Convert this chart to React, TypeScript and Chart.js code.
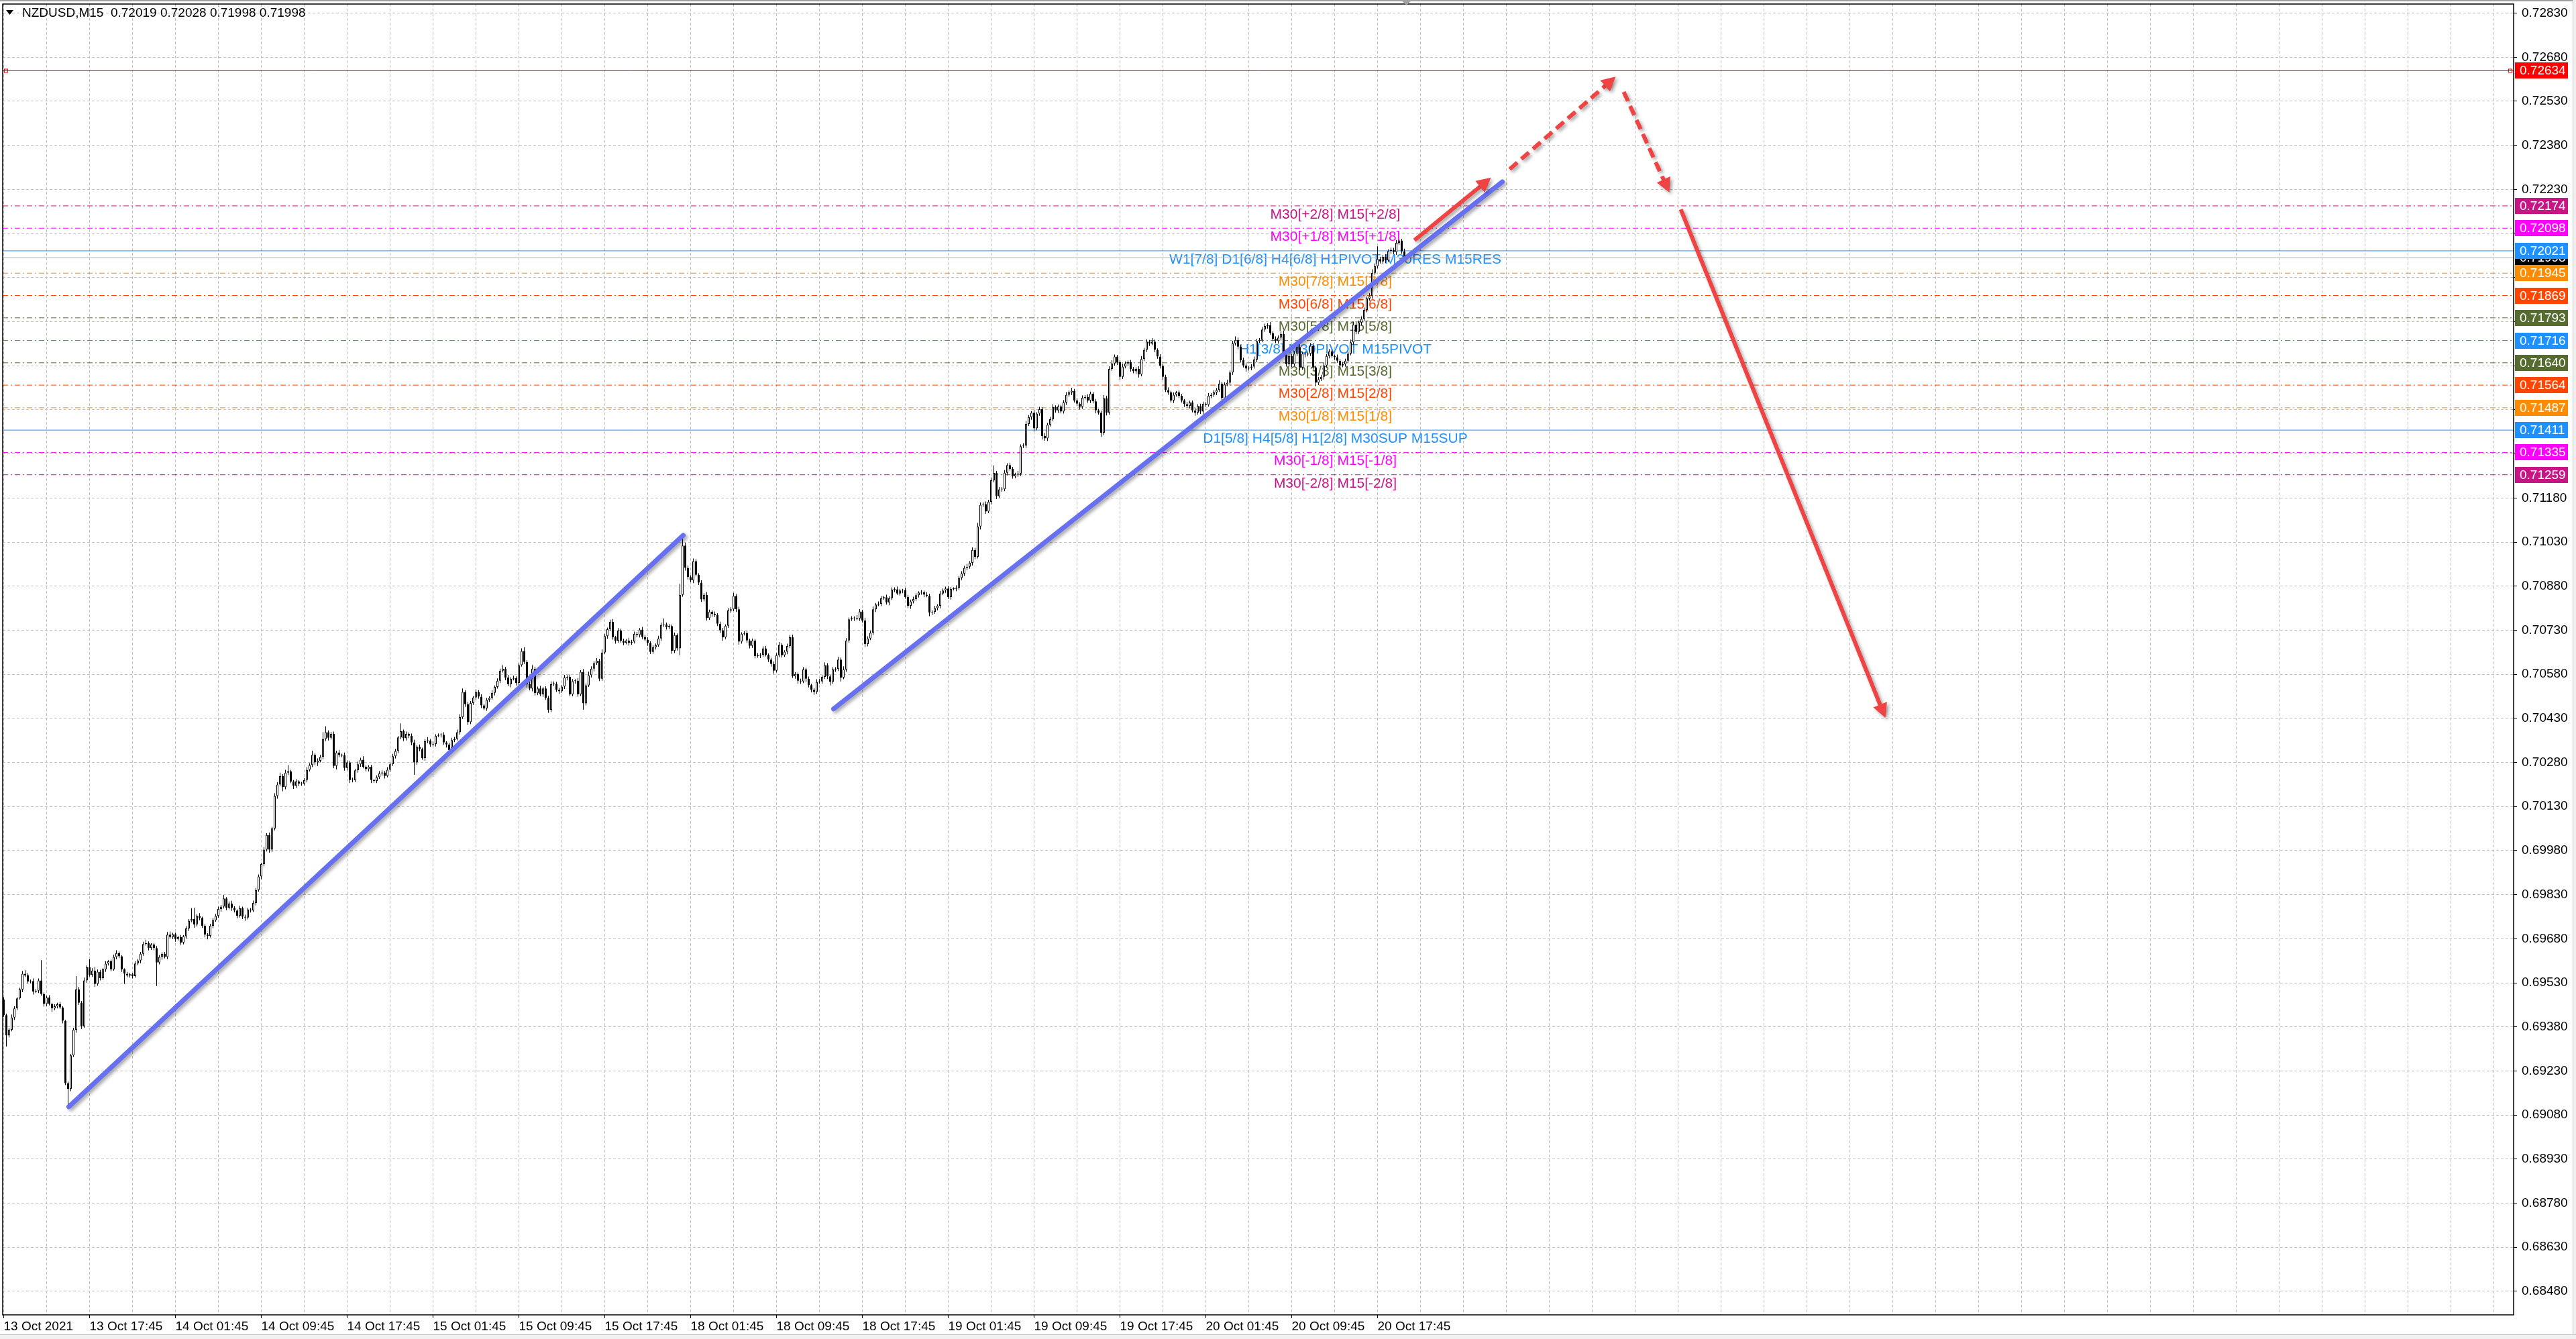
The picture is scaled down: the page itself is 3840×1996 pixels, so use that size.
import React, { useEffect, useRef } from 'react';
import { Chart, registerables } from 'chart.js';

Chart.register(...registerables);

// ---- values ----
const symbol = 'NZDUSD,M15';
const pointBase = 0.69; // every *Pts array holds points (0.00001) above this price
const firstOpenPts = 473;

// M15 closes, 13 Oct 09:45 .. 20 Oct 20:15 (open = previous close)
const closePts = [
  420, 351, 370, 412, 443, 477, 507, 561, 555, 534, 536, 500, 503, 538, 492, 458, 480, 458, 443, 450,
  457, 446, 401, 188, 169, 283, 370, 507, 462, 382, 538, 583, 557, 572, 526, 568, 546, 576, 595, 603,
  576, 618, 631, 620, 576, 561, 555, 559, 553, 596, 606, 629, 662, 665, 648, 660, 648, 599, 618, 629,
  618, 694, 686, 695, 679, 686, 667, 688, 715, 741, 747, 728, 758, 751, 724, 694, 690, 724, 743, 758,
  781, 789, 817, 785, 800, 785, 776, 758, 784, 755, 752, 779, 776, 802, 846, 892, 934, 983, 1033, 983,
  1055, 1166, 1205, 1233, 1196, 1245, 1249, 1215, 1200, 1215, 1208, 1207, 1220, 1255, 1271, 1306, 1280, 1286, 1299, 1360,
  1383, 1364, 1377, 1268, 1314, 1305, 1304, 1261, 1280, 1220, 1219, 1253, 1274, 1289, 1265, 1257, 1265, 1220, 1217, 1230,
  1243, 1246, 1234, 1255, 1274, 1301, 1319, 1365, 1386, 1362, 1377, 1371, 1348, 1280, 1333, 1325, 1295, 1352, 1354, 1341,
  1343, 1371, 1372, 1374, 1348, 1341, 1322, 1356, 1360, 1383, 1434, 1520, 1478, 1417, 1482, 1501, 1520, 1504, 1474, 1464,
  1493, 1499, 1517, 1537, 1558, 1592, 1599, 1569, 1546, 1565, 1567, 1550, 1611, 1659, 1622, 1546, 1531, 1599, 1516, 1532,
  1512, 1532, 1500, 1459, 1546, 1548, 1527, 1522, 1538, 1569, 1571, 1512, 1557, 1558, 1512, 1588, 1481, 1542, 1577, 1599,
  1618, 1626, 1565, 1654, 1710, 1733, 1759, 1706, 1694, 1729, 1694, 1687, 1695, 1687, 1691, 1717, 1714, 1732, 1707, 1698,
  1687, 1656, 1672, 1679, 1702, 1748, 1750, 1740, 1744, 1660, 1713, 1668, 1850, 2018, 1942, 1911, 1900, 1965, 1919, 1892,
  1835, 1850, 1771, 1793, 1786, 1782, 1752, 1729, 1706, 1745, 1797, 1801, 1847, 1801, 1691, 1718, 1720, 1695, 1677, 1695,
  1642, 1644, 1646, 1668, 1646, 1630, 1615, 1592, 1645, 1680, 1645, 1657, 1676, 1706, 1573, 1581, 1558, 1556, 1596, 1565,
  1543, 1527, 1520, 1554, 1556, 1571, 1611, 1573, 1554, 1596, 1598, 1630, 1569, 1596, 1695, 1767, 1771, 1772, 1770, 1794,
  1763, 1683, 1702, 1721, 1801, 1817, 1820, 1839, 1842, 1824, 1839, 1868, 1869, 1855, 1865, 1866, 1843, 1813, 1828, 1836,
  1849, 1858, 1859, 1851, 1847, 1790, 1792, 1805, 1813, 1855, 1865, 1872, 1843, 1870, 1871, 1874, 1908, 1923, 1942, 1946,
  1959, 2003, 1980, 2083, 2157, 2159, 2134, 2167, 2240, 2266, 2186, 2209, 2210, 2266, 2292, 2279, 2254, 2261, 2263, 2356,
  2358, 2432, 2455, 2470, 2417, 2467, 2482, 2391, 2383, 2429, 2448, 2490, 2478, 2491, 2474, 2505, 2531, 2539, 2545, 2512,
  2501, 2490, 2521, 2524, 2512, 2535, 2509, 2478, 2470, 2402, 2520, 2470, 2619, 2638, 2661, 2642, 2592, 2627, 2638, 2642,
  2619, 2611, 2619, 2600, 2653, 2684, 2712, 2706, 2712, 2684, 2661, 2630, 2592, 2547, 2539, 2512, 2531, 2539, 2528, 2512,
  2499, 2493, 2505, 2478, 2470, 2493, 2474, 2501, 2497, 2528, 2531, 2539, 2547, 2569, 2520, 2566, 2572, 2607, 2706, 2718,
  2695, 2649, 2631, 2620, 2623, 2627, 2651, 2714, 2718, 2753, 2765, 2768, 2741, 2722, 2714, 2726, 2738, 2671, 2635, 2663,
  2635, 2671, 2694, 2624, 2671, 2668, 2671, 2698, 2624, 2572, 2584, 2592, 2631, 2663, 2679, 2663, 2659, 2647, 2631, 2635,
  2647, 2671, 2710, 2770, 2745, 2777, 2789, 2820, 2859, 2867, 2946, 2969, 2993, 2985, 3001, 2989, 3020, 3024, 3017, 3048,
  3056, 3019, 2998,
];

// shadow lengths above / below the body
const upWickPts = [
  8, 5, 6, 10, 7, 4, 6, 9, 12, 8, 5, 9, 6, 7, 69, 5, 6, 8, 4, 7,
  5, 8, 4, 3, 6, 5, 7, 46, 9, 6, 10, 6, 27, 8, 12, 7, 6, 5, 9, 4,
  6, 8, 10, 5, 4, 3, 6, 5, 4, 7, 5, 6, 8, 12, 6, 5, 4, 7, 6, 5,
  6, 9, 11, 5, 6, 4, 7, 5, 8, 6, 37, 38, 5, 9, 4, 6, 5, 7, 8, 6,
  8, 6, 12, 5, 7, 9, 6, 4, 8, 5, 7, 6, 5, 8, 6, 7, 5, 9, 6, 8,
  6, 9, 8, 12, 7, 10, 22, 6, 5, 8, 4, 6, 7, 9, 6, 14, 5, 8, 7, 23,
  20, 6, 7, 8, 6, 9, 5, 10, 7, 6, 8, 5, 9, 7, 12, 5, 6, 7, 4, 6,
  8, 7, 5, 9, 6, 8, 7, 5, 27, 6, 8, 5, 7, 9, 6, 8, 5, 7, 12, 6,
  8, 5, 7, 6, 9, 4, 6, 8, 7, 9, 10, 12, 6, 8, 7, 5, 9, 6, 8, 5,
  7, 6, 9, 5, 8, 7, 12, 6, 9, 5, 8, 6, 7, 9, 13, 6, 8, 12, 7, 6,
  9, 5, 7, 6, 10, 8, 6, 7, 5, 9, 6, 8, 7, 5, 9, 6, 10, 7, 12, 8,
  6, 9, 7, 11, 8, 6, 7, 9, 5, 8, 6, 7, 5, 9, 6, 8, 7, 5, 9, 6,
  8, 5, 7, 6, 9, 8, 20, 6, 7, 5, 9, 6, 38, 23, 10, 8, 6, 9, 7, 5,
  8, 6, 10, 7, 5, 8, 6, 7, 9, 5, 8, 7, 10, 6, 9, 5, 7, 8, 6, 7,
  5, 8, 6, 7, 9, 5, 6, 8, 7, 10, 6, 5, 8, 7, 9, 6, 5, 7, 8, 6,
  7, 5, 6, 9, 8, 6, 10, 7, 5, 8, 6, 9, 7, 11, 8, 6, 7, 5, 9, 8,
  6, 9, 7, 8, 10, 6, 8, 7, 5, 9, 6, 8, 7, 10, 6, 5, 9, 7, 6, 8,
  7, 5, 8, 6, 9, 7, 6, 8, 5, 9, 7, 6, 8, 7, 5, 9, 6, 8, 7, 10,
  6, 9, 7, 12, 8, 6, 9, 7, 10, 25, 6, 8, 7, 9, 6, 8, 7, 5, 9, 6,
  8, 10, 7, 6, 9, 5, 8, 7, 10, 6, 8, 9, 5, 7, 6, 8, 9, 7, 10, 6,
  7, 5, 8, 6, 9, 7, 6, 8, 5, 7, 10, 8, 9, 11, 7, 6, 8, 10, 7, 6,
  8, 7, 6, 9, 10, 7, 8, 6, 12, 7, 5, 8, 6, 7, 9, 6, 8, 5, 7, 6,
  5, 8, 6, 7, 9, 6, 8, 7, 5, 9, 6, 8, 7, 12, 6, 8, 10, 7, 9, 12,
  8, 6, 9, 7, 6, 8, 10, 7, 6, 9, 8, 7, 11, 6, 8, 7, 9, 12, 6, 8,
  7, 9, 8, 12, 6, 8, 7, 9, 10, 6, 8, 7, 9, 6, 8, 7, 5, 9, 6, 8,
  7, 6, 9, 8, 10, 7, 9, 8, 6, 10, 12, 9, 43, 8, 7, 9, 6, 8, 7, 10,
  4, 6, 9,
];
const downWickPts = [
  6, 38, 7, 5, 8, 6, 4, 9, 5, 7, 6, 10, 5, 8, 6, 9, 7, 5, 12, 6,
  7, 5, 9, 6, 57, 8, 6, 10, 7, 9, 5, 8, 6, 7, 10, 6, 8, 5, 9, 6,
  7, 5, 8, 6, 9, 35, 6, 7, 8, 5, 6, 9, 7, 5, 8, 6, 7, 80, 6, 9,
  5, 8, 6, 7, 9, 5, 8, 6, 7, 9, 5, 10, 6, 8, 7, 9, 12, 6, 8, 5,
  7, 9, 6, 8, 5, 10, 7, 9, 6, 8, 11, 6, 7, 5, 8, 6, 9, 7, 6, 10,
  8, 6, 9, 5, 14, 7, 8, 6, 10, 7, 9, 6, 5, 8, 6, 7, 9, 12, 6, 8,
  7, 9, 6, 8, 12, 7, 6, 9, 8, 10, 7, 6, 8, 9, 5, 7, 8, 10, 6, 7,
  6, 8, 9, 5, 7, 6, 8, 7, 6, 9, 7, 8, 10, 42, 8, 7, 6, 9, 7, 8,
  6, 9, 5, 7, 8, 10, 12, 6, 7, 5, 8, 6, 9, 10, 7, 6, 8, 7, 9, 6,
  8, 7, 5, 9, 6, 8, 6, 9, 7, 10, 6, 8, 9, 5, 7, 12, 6, 9, 8, 7,
  6, 9, 7, 10, 8, 6, 7, 9, 5, 8, 10, 6, 7, 9, 8, 6, 22, 7, 5, 8,
  9, 6, 8, 7, 5, 9, 6, 8, 10, 7, 6, 8, 5, 9, 7, 6, 8, 9, 7, 6,
  10, 7, 6, 8, 5, 9, 7, 8, 6, 10, 8, 7, 23, 6, 9, 8, 7, 10, 6, 8,
  9, 7, 8, 6, 10, 7, 8, 9, 12, 6, 7, 8, 6, 9, 10, 7, 6, 8, 9, 7,
  8, 6, 9, 7, 5, 8, 9, 10, 6, 7, 8, 6, 9, 7, 5, 8, 10, 9, 6, 12,
  8, 9, 10, 7, 6, 8, 7, 9, 12, 6, 8, 7, 14, 6, 8, 7, 5, 9, 6, 8,
  7, 10, 8, 6, 7, 9, 5, 8, 6, 7, 9, 6, 8, 5, 7, 9, 6, 8, 10, 7,
  6, 8, 7, 9, 5, 12, 8, 6, 7, 9, 6, 8, 7, 9, 5, 8, 6, 7, 9, 8,
  7, 9, 8, 6, 10, 7, 8, 6, 9, 7, 10, 6, 8, 7, 9, 6, 8, 7, 9, 8,
  6, 8, 7, 9, 10, 6, 7, 12, 8, 9, 6, 7, 8, 9, 6, 7, 8, 6, 9, 7,
  8, 9, 7, 6, 8, 9, 7, 10, 6, 14, 8, 9, 7, 6, 8, 9, 10, 7, 6, 8,
  9, 7, 8, 10, 6, 7, 8, 9, 6, 8, 7, 9, 10, 6, 8, 7, 9, 6, 8, 7,
  9, 6, 8, 7, 10, 6, 8, 9, 7, 6, 8, 7, 9, 6, 8, 7, 6, 9, 8, 7,
  9, 8, 7, 10, 6, 8, 7, 9, 6, 8, 7, 9, 6, 8, 7, 9, 10, 6, 8, 7,
  9, 6, 8, 10, 7, 9, 6, 8, 7, 12, 8, 6, 9, 7, 8, 6, 9, 7, 10, 6,
  8, 7, 6, 9, 8, 7, 10, 6, 8, 7, 9, 6, 8, 7, 9, 10, 6, 8, 7, 9,
  6, 8, 0,
];

const timeLabels = [
  '13 Oct 2021', '13 Oct 17:45', '14 Oct 01:45', '14 Oct 09:45', '14 Oct 17:45', '15 Oct 01:45',
  '15 Oct 09:45', '15 Oct 17:45', '18 Oct 01:45', '18 Oct 09:45', '18 Oct 17:45', '19 Oct 01:45',
  '19 Oct 09:45', '19 Oct 17:45', '20 Oct 01:45', '20 Oct 09:45', '20 Oct 17:45',
];
const barsPerLabel = 32;

const priceTicks = [
  0.7283, 0.7268, 0.7253, 0.7238, 0.7223, 0.7208, 0.7193, 0.7178, 0.7163, 0.7148,
  0.7133, 0.7118, 0.7103, 0.7088, 0.7073, 0.7058, 0.7043, 0.7028, 0.7013, 0.6998,
  0.6983, 0.6968, 0.6953, 0.6938, 0.6923, 0.6908, 0.6893, 0.6878, 0.6863, 0.6848,
];

const levelPrices = [
  0.72174, 0.72098, 0.72021, 0.71945, 0.71869, 0.71793, 0.71716,
  0.7164, 0.71564, 0.71487, 0.71411, 0.71335, 0.71259,
];
const levelTexts = [
  'M30[+2/8] M15[+2/8]',
  'M30[+1/8] M15[+1/8]',
  'W1[7/8] D1[6/8] H4[6/8] H1PIVOT M30RES M15RES',
  'M30[7/8] M15[7/8]',
  'M30[6/8] M15[6/8]',
  'M30[5/8] M15[5/8]',
  'H1[3/8] M30PIVOT M15PIVOT',
  'M30[3/8] M15[3/8]',
  'M30[2/8] M15[2/8]',
  'M30[1/8] M15[1/8]',
  'D1[5/8] H4[5/8] H1[2/8] M30SUP M15SUP',
  'M30[-1/8] M15[-1/8]',
  'M30[-2/8] M15[-2/8]',
];
const resistancePrice = 0.72634;

// hand-drawn objects as [bar, price, bar, price]
const trendLines = [
  [24.25, 0.69108, 253.25, 0.71053],
  [309.25, 0.70462, 558.5, 0.72256],
];
const arrows = [
  [525.75, 0.72057, 554.25, 0.7227],
  [561.25, 0.72299, 600.75, 0.72614],
  [603.75, 0.72562, 620.75, 0.7222],
  [625, 0.72162, 701.25, 0.70432],
];

// ---- styles ----
const levelColors = [
  '#C71585', '#FF00FF', '#1E90FF', '#FF8C00', '#FF4500', '#556B2F', '#1E90FF',
  '#556B2F', '#FF4500', '#FF8C00', '#1E90FF', '#FF00FF', '#C71585',
];
const levelSolid = [false, false, true, false, false, false, false, false, false, false, true, false, false];
const arrowDashed = [false, true, true, false];
const ARIAL = '"Liberation Sans", Arial, sans-serif';
const UI_SIZE = 19;
const GRID = '#C0C0C0';
const X_MIN = -0.375;
const X_MAX = 935.375;
const Y_MIN = 0.684;
const Y_MAX = 0.72861;
const LEVEL_TEXT_BAR = 496.25;

const toPrice = (pts: number) => +(pointBase + pts / 1e5).toFixed(5);

export default function App() {
  const canvasRef = useRef<HTMLCanvasElement>(null);

  useEffect(() => {
    document.body.style.margin = '0';
    const canvas = canvasRef.current;
    if (!canvas) return;

    const opens = closePts.map((c, i) => (i === 0 ? firstOpenPts : closePts[i - 1]));
    const bodies = closePts.map((c, i) => ({ x: i, y: [toPrice(opens[i]), toPrice(c)] }));
    const wicks = closePts.map((c, i) => ({
      x: i,
      y: [
        toPrice(Math.min(opens[i], c) - (downWickPts[i] ?? 5)),
        toPrice(Math.max(opens[i], c) + (upWickPts[i] ?? 5)),
      ],
    }));
    const bodyFill = closePts.map((c, i) => (c >= opens[i] ? '#FFFFFF' : '#000000'));
    const last = closePts.length - 1;
    const lastOpen = toPrice(opens[last]);
    const lastHigh = toPrice(Math.max(opens[last], closePts[last]) + upWickPts[last]);
    const lastLow = toPrice(Math.min(opens[last], closePts[last]) - downWickPts[last]);
    const bid = toPrice(closePts[last]);

    const hLine = (price: number, color: string, dash: number[]) => ({
      type: 'line',
      data: [{ x: X_MIN, y: price }, { x: X_MAX, y: price }],
      borderColor: color,
      borderWidth: 1,
      borderDash: dash,
      pointRadius: 0,
      fill: false,
      order: 10,
    });

    const datasets: any[] = [
      ...levelPrices.map((p, k) => hLine(p, levelColors[k], levelSolid[k] ? [] : [8, 4, 2, 4])),
      hLine(resistancePrice, '#FF0000', []),
      hLine(bid, '#B4B4B4', []),
      {
        type: 'bar',
        data: wicks,
        backgroundColor: '#000000',
        borderWidth: 0,
        barThickness: 1,
        grouped: false,
        inflateAmount: 0,
        order: 6,
      },
      {
        type: 'bar',
        data: bodies,
        backgroundColor: bodyFill,
        borderColor: '#000000',
        borderWidth: 1,
        borderSkipped: false,
        barThickness: 3,
        minBarLength: 1,
        grouped: false,
        inflateAmount: 0,
        order: 5,
      },
      ...trendLines.map((t) => ({
        type: 'line',
        data: [{ x: t[0], y: t[1] }, { x: t[2], y: t[3] }],
        borderColor: '#6670F0',
        borderWidth: 7,
        borderCapStyle: 'round',
        pointRadius: 0,
        fill: false,
        shadow: true,
        order: 1,
      })),
      ...arrows.map((a, k) => ({
        type: 'line',
        data: [{ x: a[0], y: a[1] }, { x: a[2], y: a[3] }],
        borderColor: '#F04343',
        borderWidth: 6,
        borderDash: arrowDashed[k] ? [15, 8] : [],
        borderCapStyle: 'butt',
        pointRadius: 0,
        fill: false,
        shadow: true,
        arrowHead: true,
        order: 0,
      })),
    ];

    const tips = new Map<number, { x: number; y: number; ux: number; uy: number }>();

    const drawings = {
      id: 'drawings',
      beforeDatasetsDraw(chart: any) {
        const { ctx, scales } = chart;
        const x = scales.x.getPixelForValue(LEVEL_TEXT_BAR);
        ctx.save();
        ctx.font = `21px ${ARIAL}`;
        ctx.textAlign = 'center';
        ctx.textBaseline = 'alphabetic';
        levelPrices.forEach((p, k) => {
          ctx.fillStyle = levelColors[k];
          ctx.fillText(levelTexts[k], x, scales.y.getPixelForValue(p) + 19);
        });
        ctx.restore();
      },
      beforeDatasetDraw(chart: any, args: any) {
        const ds = chart.data.datasets[args.index];
        if (!ds.shadow) return;
        const ctx = chart.ctx;
        ctx.save();
        ctx.shadowColor = 'rgba(0,0,0,0.35)';
        ctx.shadowBlur = 5;
        ctx.shadowOffsetX = 3;
        ctx.shadowOffsetY = 3;
        if (ds.arrowHead) {
          const [a, b] = args.meta.data;
          const dx = b.x - a.x;
          const dy = b.y - a.y;
          const len = Math.hypot(dx, dy) || 1;
          const tip = { x: b.x, y: b.y, ux: dx / len, uy: dy / len };
          tips.set(args.index, tip);
          // stop the shaft inside the head
          b.x = tip.x - tip.ux * 12;
          b.y = tip.y - tip.uy * 12;
          args.meta.dataset._path = undefined;
        }
      },
      afterDatasetDraw(chart: any, args: any) {
        const ds = chart.data.datasets[args.index];
        if (!ds.shadow) return;
        const ctx = chart.ctx;
        const tip = tips.get(args.index);
        if (ds.arrowHead && tip) {
          const b = args.meta.data[1];
          b.x = tip.x;
          b.y = tip.y;
          const L = 21;
          const W = 11;
          const bx = tip.x - tip.ux * L;
          const by = tip.y - tip.uy * L;
          ctx.setLineDash([]);
          ctx.beginPath();
          ctx.moveTo(tip.x, tip.y);
          ctx.lineTo(bx - tip.uy * W, by + tip.ux * W);
          ctx.lineTo(bx + tip.uy * W, by - tip.ux * W);
          ctx.closePath();
          ctx.fillStyle = ds.borderColor;
          ctx.fill();
        }
        ctx.restore();
      },
      afterDraw(chart: any) {
        const { ctx, chartArea: ca, scales } = chart;
        const w = chart.width;
        const h = chart.height;
        ctx.save();

        // plot frame
        ctx.strokeStyle = '#000000';
        ctx.lineWidth = 1.5;
        ctx.strokeRect(ca.left, ca.top, ca.right - ca.left, ca.bottom - ca.top);

        // resistance line end markers
        const ry = Math.round(scales.y.getPixelForValue(resistancePrice)) + 0.5;
        ctx.strokeStyle = '#FF0000';
        ctx.lineWidth = 1;
        ctx.strokeRect(ca.left + 2.5, ry - 2.5, 5, 5);
        ctx.strokeRect(ca.right - 7.5, ry - 2.5, 5, 5);

        // price tags on the axis
        ctx.font = `${UI_SIZE}px ${ARIAL}`;
        ctx.textAlign = 'left';
        ctx.textBaseline = 'middle';
        const tag = (price: number, bg: string) => {
          const py = Math.round(scales.y.getPixelForValue(price));
          ctx.fillStyle = bg;
          ctx.fillRect(ca.right + 2, py - 12, 79, 24);
          ctx.fillStyle = '#FFFFFF';
          ctx.fillText(price.toFixed(5), ca.right + 9, py + 1);
        };
        tag(bid, '#000000');
        levelPrices.forEach((p, k) => tag(p, levelColors[k]));
        tag(resistancePrice, '#FF0000');

        // header
        ctx.fillStyle = '#000000';
        ctx.beginPath();
        ctx.moveTo(9, 15);
        ctx.lineTo(20, 15);
        ctx.lineTo(14.5, 22);
        ctx.closePath();
        ctx.fill();
        ctx.fillText(
          `${symbol}  ${lastOpen.toFixed(5)} ${lastHigh.toFixed(5)} ${lastLow.toFixed(5)} ${bid.toFixed(5)}`,
          33,
          20,
        );

        // chart shift marker
        const sx = scales.x.getPixelForValue(last + 0.75);
        ctx.fillStyle = '#A0A0A0';
        ctx.beginPath();
        ctx.moveTo(sx - 6, 2);
        ctx.lineTo(sx + 6, 2);
        ctx.lineTo(sx, 8);
        ctx.closePath();
        ctx.fill();

        // window frame
        ctx.fillStyle = '#A0A0A0';
        ctx.fillRect(0, 0, w, 2);
        ctx.fillStyle = '#F0F0F0';
        ctx.fillRect(0, h - 6, w, 6);
        ctx.fillRect(w - 4, 0, 4, h);
        ctx.fillStyle = '#C8C8C8';
        ctx.fillRect(0, h - 7, w, 1);
        ctx.fillRect(w - 5, 0, 1, h - 6);
        ctx.restore();
      },
    };

    const tickFont = { family: ARIAL, size: UI_SIZE };
    const isLabelTick = (v: number) => v % barsPerLabel === 0 && v / barsPerLabel < timeLabels.length;
    const tagged = [...levelPrices, resistancePrice];

    const chart = new Chart(canvas, {
      type: 'bar',
      data: { datasets },
      plugins: [drawings],
      options: {
        responsive: false,
        animation: false,
        events: [],
        layout: { padding: { left: 4, top: 6, right: 0, bottom: 0 } },
        plugins: { legend: { display: false }, tooltip: { enabled: false } },
        scales: {
          x: {
            type: 'linear',
            min: X_MIN,
            max: X_MAX,
            offset: false,
            afterBuildTicks: (s: any) => {
              const t = [];
              for (let v = 0; v <= X_MAX; v += barsPerLabel / 2) t.push({ value: v });
              s.ticks = t;
            },
            afterFit: (s: any) => {
              s.height = 36;
              s.paddingLeft = 0;
              s.paddingRight = 0;
            },
            ticks: {
              font: tickFont,
              color: '#000000',
              padding: 1,
              align: 'start',
              maxRotation: 0,
              minRotation: 0,
              autoSkip: false,
              callback: (v: any) => (isLabelTick(Number(v)) ? timeLabels[Number(v) / barsPerLabel] : ''),
            },
            grid: {
              color: GRID,
              offset: false,
              tickLength: 5,
              tickColor: (c: any) => (c.tick && isLabelTick(c.tick.value) ? '#000000' : 'rgba(0,0,0,0)'),
            },
            border: { display: false, dash: [4, 3] },
          },
          y: {
            type: 'linear',
            position: 'right',
            min: Y_MIN,
            max: Y_MAX,
            afterBuildTicks: (s: any) => {
              s.ticks = priceTicks.map((value) => ({ value }));
            },
            afterFit: (s: any) => {
              s.width = 93;
              s.paddingTop = 0;
              s.paddingBottom = 0;
            },
            ticks: {
              font: tickFont,
              color: '#000000',
              padding: 7,
              callback: (v: any) =>
                tagged.some((p) => Math.abs(p - Number(v)) < 0.0004) ? '' : Number(v).toFixed(5),
            },
            grid: { color: GRID, tickLength: 5, tickColor: '#000000' },
            border: { display: false, dash: [4, 3] },
          },
        },
      } as any,
    } as any);

    return () => chart.destroy();
  }, []);

  return (
    <canvas
      ref={canvasRef}
      width={3840}
      height={1996}
      style={{ display: 'block', width: 3840, height: 1996, background: '#FFFFFF' }}
    />
  );
}
